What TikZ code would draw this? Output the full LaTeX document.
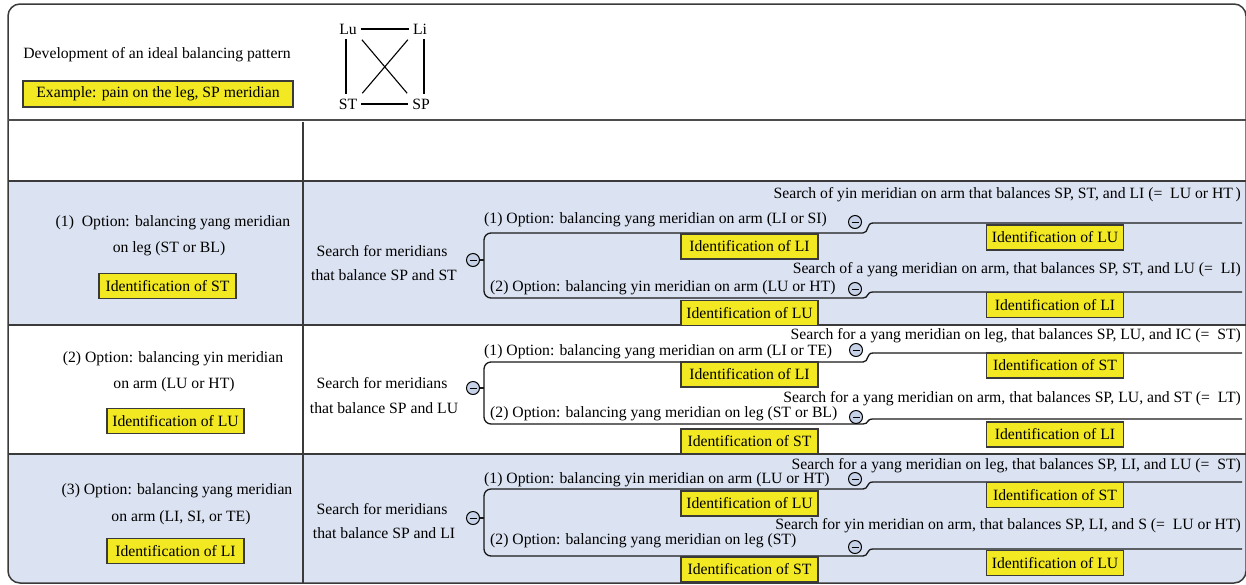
\documentclass[tikz,border=0pt]{standalone}
\usepackage{fontspec}
\setmainfont{Liberation Serif}
\definecolor{rowblue}{HTML}{DBE2F1}
\definecolor{idyellow}{HTML}{F2E923}
\definecolor{framecol}{HTML}{3A3A3A}
\definecolor{minusfill}{HTML}{C5D2E8}
\newcommand\dgfont{\fontsize{15.7}{18}\selectfont}
\tikzset{
  lbl/.style={font=\dgfont, inner sep=0pt, anchor=base},
  idbox/.style={draw=framecol, line width=1.3pt, fill=idyellow, font=\dgfont,
    minimum width=137pt, minimum height=25pt, inner sep=0pt},
  minus/.style={circle, draw=black, line width=1pt, fill=minusfill, minimum size=13pt, inner sep=0pt,
    path picture={\draw[line width=0.9pt] ([xshift=-3.5pt]path picture bounding box.center) -- ([xshift=3.5pt]path picture bounding box.center);}},
  conn/.style={draw=black!90, line width=1.3pt},
  rule/.style={draw=framecol, line width=1.5pt},
  quad/.style={font=\dgfont, inner sep=3pt},
  qline/.style={draw=black, line width=1.1pt}
}
\begin{document}
\begin{tikzpicture}[x=1pt,y=-1pt]
\useasboundingbox (0,0) rectangle (1246,584);
% backgrounds
\begin{scope}
\clip[rounded corners=12pt] (8,4) rectangle (1246,583);
\fill[rowblue] (8,181) rectangle (1246,325);
\fill[rowblue] (8,454) rectangle (1246,583);
\end{scope}
\draw[rule, rounded corners=12pt] (8,4) rectangle (1246,583);
\draw[rule, line width=2pt, draw=black!70] (8,120) -- (1246,120);
\draw[rule] (8,181) -- (1246,181);
\draw[rule] (8,325) -- (1246,325);
\draw[rule] (8,454) -- (1246,454);
\draw[rule] (303,122) -- (303,583);

% header
\node[lbl] (title) at (157,58) {Development of an ideal balancing pattern};
\node[idbox, minimum width=270pt, minimum height=26pt] (example) at (158,94) {Example: pain on the leg, SP meridian};
\node[quad] (Lu) at (348,29) {Lu};
\node[quad] (Li) at (420,29) {Li};
\node[quad] (ST) at (348,104) {ST};
\node[quad] (SP) at (421,104) {SP};
\draw[qline, shorten <=1pt, shorten >=1pt] (Lu) -- (Li);
\draw[qline, shorten <=1pt, shorten >=1pt] (ST) -- (SP);
\draw[qline, shorten <=2pt, shorten >=2pt] ([xshift=-2pt]Lu.south) -- ([xshift=-2pt]ST.north);
\draw[qline, shorten <=2pt, shorten >=2pt] ([xshift=4pt]Li.south) -- ([xshift=3pt]SP.north);
\draw[qline, shorten <=3pt, shorten >=3pt] (Lu.south east) -- (SP.north west);
\draw[qline, shorten <=3pt, shorten >=3pt] (Li.south west) -- (ST.north east);

% ---------- Row 1 ----------
\node[lbl] (r1l1) at (173,226) {(1)\ \ Option: balancing yang meridian};
\node[lbl] (r1l2) at (169,252) {on leg (ST or BL)};
\node[idbox] (r1id) at (167.5,286) {Identification of ST};
\node[lbl] (r1c1) at (382,256) {Search for meridians};
\node[lbl] (r1c2) at (384,280) {that balance SP and ST};
\node[minus] (r1m) at (473,260) {};
\coordinate (r1v) at (484,260);
\draw[conn] (r1m.east) -- (r1v);
\coordinate (r1a) at (863,233);
\coordinate (r1b) at (863,298);
\coordinate (r1ae) at (1242,223);
\coordinate (r1be) at (1242,292);
\draw[conn, rounded corners=7pt] (r1a) -- (484,233) -- (484,298) -- (r1b);
\draw[conn] (r1a) .. controls (869,233) and (866,223) .. (873,223) -- (r1ae);
\draw[conn] (r1b) .. controls (869,298) and (866,292) .. (873,292) -- (r1be);
\node[lbl, anchor=base west] (r1o1) at (484,223) {(1) Option: balancing yang meridian on arm (LI or SI)};
\node[idbox] (r1o1id) at (749.5,246.5) {Identification of LI};
\node[lbl, anchor=base west] (r1o2) at (490,291) {(2) Option: balancing yin meridian on arm (LU or HT)};
\node[idbox] (r1o2id) at (749.5,313) {Identification of LU};
\node[minus] (r1s1) at (855,222) {};
\node[minus] (r1s2) at (855,289) {};
\node[lbl, anchor=base east] (r1q1) at (1241,198) {Search of yin meridian on arm that balances SP, ST, and LI (=\ \ LU or HT\,)};
\node[idbox] (r1q1id) at (1055,237.5) {Identification of LU};
\node[lbl, anchor=base east] (r1q2) at (1241,273) {Search of a yang meridian on arm, that balances SP, ST, and LU (=\ \ LI)};
\node[idbox] (r1q2id) at (1055,305) {Identification of LI};

% ---------- Row 2 ----------
\node[lbl] (r2l1) at (173,362) {(2) Option: balancing yin meridian};
\node[lbl] (r2l2) at (174,388) {on arm (LU or HT)};
\node[idbox] (r2id) at (175.5,421) {Identification of LU};
\node[lbl] (r2c1) at (382,388) {Search for meridians};
\node[lbl] (r2c2) at (384,413) {that balance SP and LU};
\node[minus] (r2m) at (473,388) {};
\coordinate (r2v) at (484,388);
\draw[conn] (r2m.east) -- (r2v);
\coordinate (r2a) at (863,362);
\coordinate (r2b) at (863,424);
\coordinate (r2ae) at (1242,353);
\coordinate (r2be) at (1242,419);
\draw[conn, rounded corners=7pt] (r2a) -- (484,362) -- (484,424) -- (r2b);
\draw[conn] (r2a) .. controls (869,362) and (866,353) .. (873,353) -- (r2ae);
\draw[conn] (r2b) .. controls (869,424) and (866,419) .. (873,419) -- (r2be);
\node[lbl, anchor=base west] (r2o1) at (484,355) {(1) Option: balancing yang meridian on arm (LI or TE)};
\node[idbox] (r2o1id) at (749.5,374.5) {Identification of LI};
\node[lbl, anchor=base west] (r2o2) at (490,417) {(2) Option: balancing yang meridian on leg (ST or BL)};
\node[idbox] (r2o2id) at (749.5,441.5) {Identification of ST};
\node[minus] (r2s1) at (856,350) {};
\node[minus] (r2s2) at (856,417) {};
\node[lbl, anchor=base east] (r2q1) at (1241,339) {Search for a yang meridian on leg, that balances SP, LU, and IC (=\ \ ST)};
\node[idbox] (r2q1id) at (1055,365.5) {Identification of ST};
\node[lbl, anchor=base east] (r2q2) at (1241,402) {Search for a yang meridian on arm, that balances SP, LU, and ST (=\ \ LT)};
\node[idbox] (r2q2id) at (1055,434.5) {Identification of LI};

% ---------- Row 3 ----------
\node[lbl] (r3l1) at (177,494) {(3) Option: balancing yang meridian};
\node[lbl] (r3l2) at (181,521) {on arm (LI, SI, or TE)};
\node[idbox] (r3id) at (175.5,551) {Identification of LI};
\node[lbl] (r3c1) at (382,514) {Search for meridians};
\node[lbl] (r3c2) at (384,538) {that balance SP and LI};
\node[minus] (r3m) at (473,518) {};
\coordinate (r3v) at (484,518);
\draw[conn] (r3m.east) -- (r3v);
\coordinate (r3a) at (863,489);
\coordinate (r3b) at (863,556);
\coordinate (r3ae) at (1242,482);
\coordinate (r3be) at (1242,549);
\draw[conn, rounded corners=7pt] (r3a) -- (484,489) -- (484,556) -- (r3b);
\draw[conn] (r3a) .. controls (869,489) and (866,482) .. (873,482) -- (r3ae);
\draw[conn] (r3b) .. controls (869,556) and (866,549) .. (873,549) -- (r3be);
\node[lbl, anchor=base west] (r3o1) at (484,483) {(1) Option: balancing yin meridian on arm (LU or HT)};
\node[idbox] (r3o1id) at (749.5,503.5) {Identification of LU};
\node[lbl, anchor=base west] (r3o2) at (490,544) {(2) Option: balancing yang meridian on leg (ST)};
\node[idbox] (r3o2id) at (749.5,569.5) {Identification of ST};
\node[minus] (r3s1) at (855,479) {};
\node[minus] (r3s2) at (855,547) {};
\node[lbl, anchor=base east] (r3q1) at (1241,469) {Search for a yang meridian on leg, that balances SP, LI, and LU (=\ \ ST)};
\node[idbox] (r3q1id) at (1055,495) {Identification of ST};
\node[lbl, anchor=base east] (r3q2) at (1241,529) {Search for yin meridian on arm, that balances SP, LI, and S (=\ \ LU or HT)};
\node[idbox] (r3q2id) at (1055,563) {Identification of LU};
\end{tikzpicture}
\end{document}
